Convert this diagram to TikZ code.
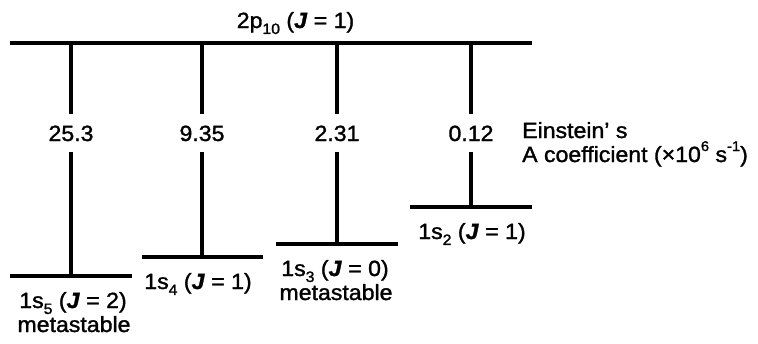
\documentclass[tikz,border=0pt]{standalone}
\usepackage{fontspec}
\setmainfont{Liberation Sans}[FakeStretch=1.05,FakeBold=1.4]
\newcommand\lsub[1]{\raisebox{-0.27em}{\fontsize{15}{15}\selectfont #1}}
\newcommand\lsup[1]{\raisebox{0.5em}{\fontsize{14}{14}\selectfont #1}}
\begin{document}
\begin{tikzpicture}[x=1pt,y=-1pt,
  lvl/.style={line width=4.7pt},
  tr/.style={line width=4.7pt},
  lab/.style={anchor=base, inner sep=0pt, font=\fontsize{22}{24}\selectfont},
  num/.style={anchor=base, inner xsep=0pt, inner ysep=11pt, font=\fontsize{22}{24}\selectfont}]
\useasboundingbox (0,0) rectangle (758,343);
% upper level
\coordinate (tL) at (10,43);
\coordinate (tR) at (532,43);
\draw[lvl] (tL) -- (tR);
\node[lab] (top) at (295.5,28) {2p\lsub{10} (\textbf{\textit{J}} = 1)};
% lower levels
\coordinate (s5L) at (10,276);  \coordinate (s5R) at (132,276);
\coordinate (s4L) at (142,257); \coordinate (s4R) at (263,257);
\coordinate (s3L) at (276,244); \coordinate (s3R) at (398,244);
\coordinate (s2L) at (410,207); \coordinate (s2R) at (532,207);
\draw[lvl] (s5L) -- (s5R);
\draw[lvl] (s4L) -- (s4R);
\draw[lvl] (s3L) -- (s3R);
\draw[lvl] (s2L) -- (s2R);
% transitions
\coordinate (a1) at (71,43);  \coordinate (b1) at (71,276);
\coordinate (a2) at (202,43); \coordinate (b2) at (202,257);
\coordinate (a3) at (337,43); \coordinate (b3) at (337,244);
\coordinate (a4) at (471,43); \coordinate (b4) at (471,207);
\node[num] (n1) at (71,141) {25.3};
\node[num] (n2) at (202,141) {9.35};
\node[num] (n3) at (337,141) {2.31};
\node[num] (n4) at (471,141) {0.12};
\draw[tr] (a1) -- (n1.north); \draw[tr] (n1.south) -- (b1);
\draw[tr] (a2) -- (n2.north); \draw[tr] (n2.south) -- (b2);
\draw[tr] (a3) -- (n3.north); \draw[tr] (n3.south) -- (b3);
\draw[tr] (a4) -- (n4.north); \draw[tr] (n4.south) -- (b4);
% level labels
\node[lab] (l5) at (73,308) {1s\lsub{5} (\textbf{\textit{J}} = 2)};
\node[lab] (m5) at (74,332) {metastable};
\node[lab] (l4) at (198,289) {1s\lsub{4} (\textbf{\textit{J}} = 1)};
\node[lab] (l3) at (335,276) {1s\lsub{3} (\textbf{\textit{J}} = 0)};
\node[lab] (m3) at (336,300) {metastable};
\node[lab] (l2) at (472,239) {1s\lsub{2} (\textbf{\textit{J}} = 1)};
% legend
\node[lab, anchor=base west] (e1) at (522,138) {Einstein’\ s};
\node[lab, anchor=base west] (e2) at (522,162) {A coefficient (×10\lsup{6} s\lsup{-1})};
\end{tikzpicture}
\end{document}
